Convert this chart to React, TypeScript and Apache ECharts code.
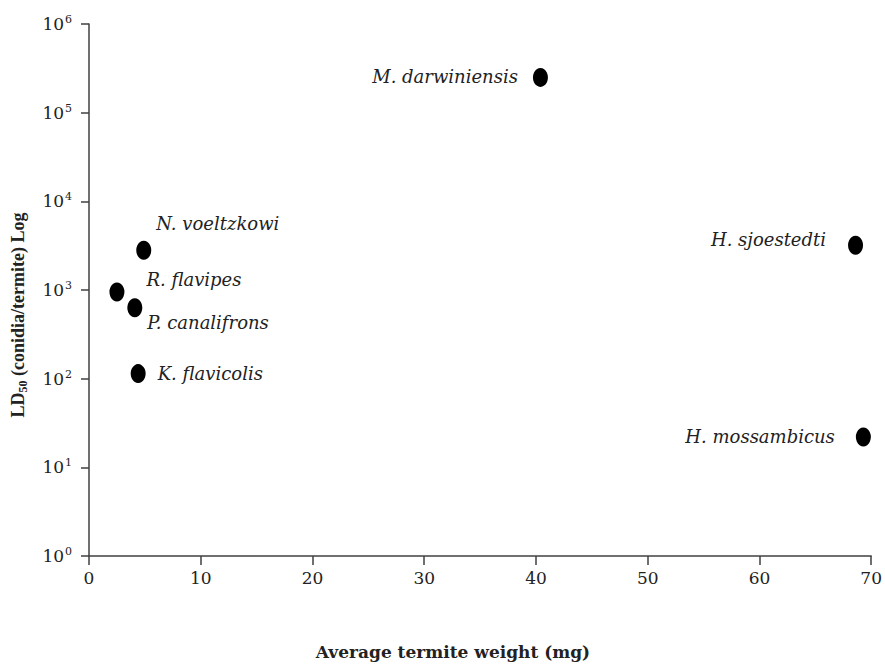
import React, { useEffect, useRef } from "react";
import * as echarts from "echarts";

const species = [
  "N. voeltzkowi",
  "R. flavipes",
  "P. canalifrons",
  "K. flavicolis",
  "M. darwiniensis",
  "H. sjoestedti",
  "H. mossambicus",
];
const weights = [4.9, 2.5, 4.1, 4.4, 40.4, 68.6, 69.3];
const ld50 = [2800, 950, 630, 114, 250000, 3200, 22];
const xTicks = { min: 0, max: 70, interval: 10 };
const yTicks = { min: 1, max: 1000000 };

const labelPlacement: Record<string, { position: string; offset: number[] }> = {
  "N. voeltzkowi": { position: "right", offset: [0, -27] },
  "R. flavipes": { position: "right", offset: [17, -12] },
  "P. canalifrons": { position: "right", offset: [0, 15] },
  "K. flavicolis": { position: "right", offset: [7, 0] },
  "M. darwiniensis": { position: "left", offset: [-10, -1] },
  "H. sjoestedti": { position: "left", offset: [-17, -6] },
  "H. mossambicus": { position: "left", offset: [-16, 0] },
};

const WIDE = "DejaVu Serif";
const SERIF = "Liberation Serif";

export default function App() {
  const ref = useRef<HTMLDivElement>(null);
  useEffect(() => {
    if (!ref.current) return;
    const chart = echarts.init(ref.current, undefined, { renderer: "svg" });
    const data = species.map((s, i) => ({
      value: [weights[i], ld50[i]],
      name: s,
      label: {
        show: true,
        formatter: s,
        position: labelPlacement[s].position,
        offset: labelPlacement[s].offset,
        distance: 5,
        fontFamily: WIDE,
        fontStyle: "italic",
        fontSize: 18,
        color: "#222",
      },
    }));
    chart.setOption({
      animation: false,
      textStyle: { fontFamily: WIDE },
      grid: { left: 89, right: 4, top: 24, bottom: 109, containLabel: false },
      xAxis: {
        type: "value",
        min: xTicks.min,
        max: xTicks.max,
        interval: xTicks.interval,
        splitLine: { show: false },
        axisLine: { show: true, lineStyle: { color: "#404040", width: 1.5 } },
        axisTick: { show: true, length: 9, lineStyle: { color: "#404040", width: 1.5 } },
        axisLabel: {
          margin: 13,
          color: "#222",
          fontFamily: WIDE,
          fontSize: 17,
        },
      },
      yAxis: {
        type: "log",
        logBase: 10,
        min: yTicks.min,
        max: yTicks.max,
        splitLine: { show: false },
        axisLine: { show: true, lineStyle: { color: "#404040", width: 1.5 } },
        axisTick: { show: true, length: 8, lineStyle: { color: "#404040", width: 1.5 } },
        axisLabel: {
          margin: 17,
          color: "#222",
          fontFamily: WIDE,
          fontSize: 17,
          formatter: (v: number) => `{b|10}{s|${Math.round(Math.log10(v))}}`,
          rich: {
            b: { fontFamily: WIDE, fontSize: 17, color: "#222", lineHeight: 20 },
            s: {
              fontFamily: WIDE,
              fontSize: 11,
              color: "#222",
              verticalAlign: "top",
              lineHeight: 20,
              padding: [0, 0, 6, 1],
            },
          },
        },
      },
      graphic: [
        {
          type: "text",
          x: 453,
          y: 652,
          style: {
            text: "Average termite weight (mg)",
            fontFamily: WIDE,
            fontSize: 17,
            fontWeight: "bold",
            fill: "#222",
            align: "center",
            verticalAlign: "middle",
          },
        },
        {
          type: "text",
          x: 18,
          y: 315,
          rotation: Math.PI / 2,
          style: {
            text: "{b|LD}{s|50}{b| (conidia/termite) Log}",
            align: "center",
            verticalAlign: "middle",
            fill: "#222",
            rich: {
              b: { fontFamily: SERIF, fontSize: 18, fontWeight: "bold", fill: "#222", lineHeight: 22 },
              s: {
                fontFamily: SERIF,
                fontSize: 12,
                fontWeight: "bold",
                fill: "#222",
                lineHeight: 22,
                verticalAlign: "bottom",
                padding: [6, 0, 0, 0],
              },
            },
          },
        },
      ],
      series: [
        {
          type: "scatter",
          symbol: "circle",
          symbolSize: [15, 19],
          itemStyle: { color: "#000", opacity: 1 },
          data,
        },
      ],
    });
    return () => chart.dispose();
  }, []);
  return (
    <div
      ref={ref}
      style={{ position: "absolute", left: 0, top: 0, width: 885, height: 665 }}
    />
  );
}
